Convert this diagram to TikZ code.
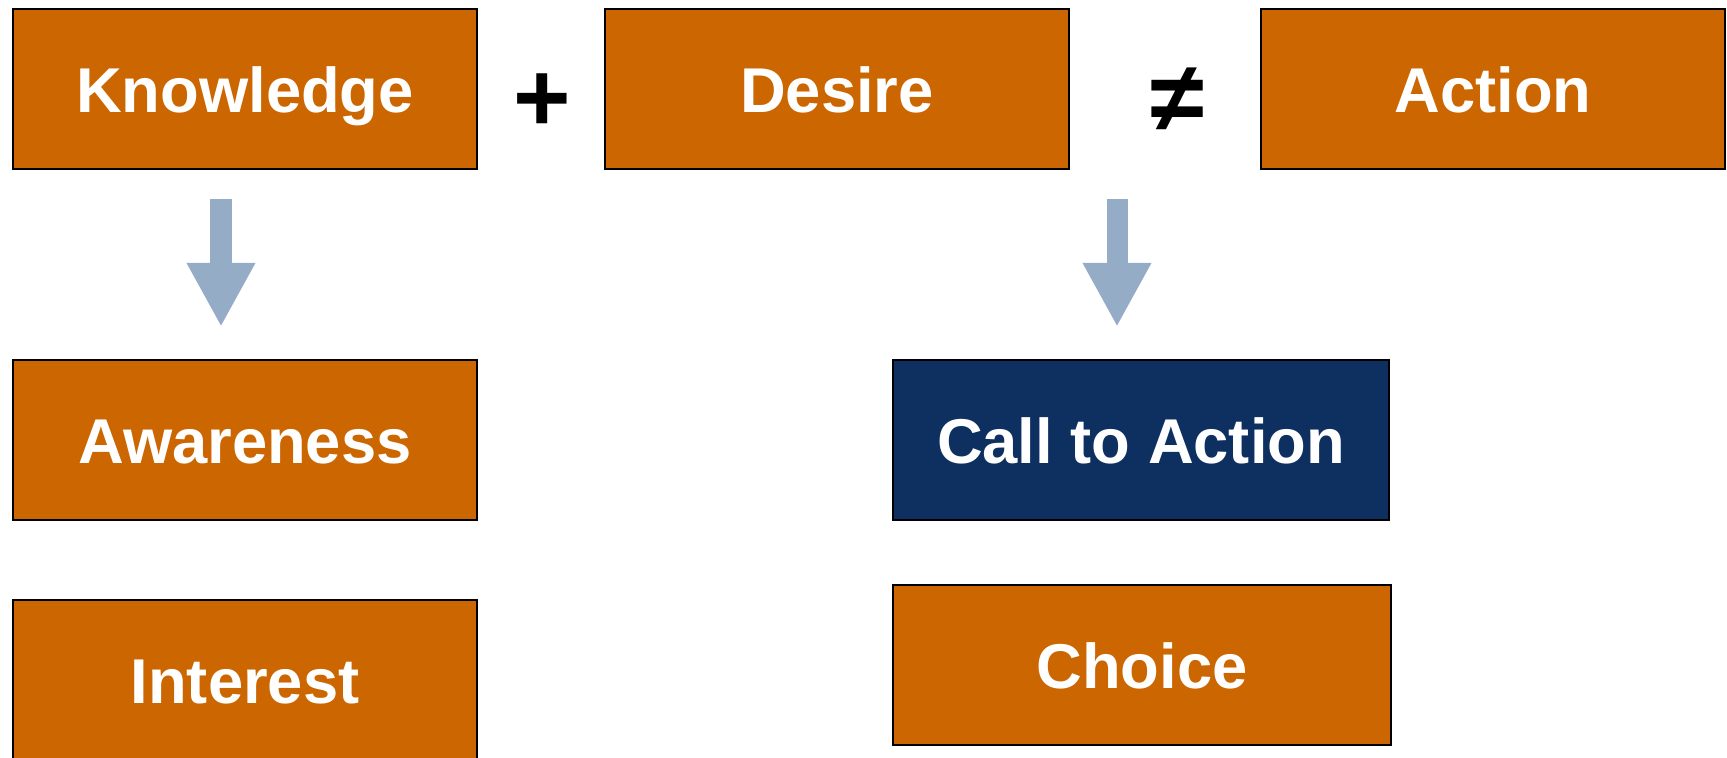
\documentclass[tikz,border=0pt]{standalone}
\usepackage{fontspec}
\setmainfont{Liberation Sans}
\usetikzlibrary{arrows.meta,calc}

\definecolor{boxorange}{HTML}{CC6600}
\definecolor{boxnavy}{HTML}{0D3060}
\definecolor{arrowblue}{HTML}{95ACC7}

\tikzset{
  stage/.style={draw=black,line width=0.6pt,fill=boxorange,text=white,
    minimum width=4.64cm,minimum height=1.6cm,inner sep=0pt,
    text height=0.47cm,text depth=0pt,
    font=\fontsize{18}{20}\selectfont\bfseries},
  sign/.style={font=\fontsize{28}{30}\selectfont\bfseries,inner sep=0pt},
  downarrow/.style={arrowblue,line width=0.21cm,
    -{Triangle[width=0.64cm,length=0.64cm]}}
}

\begin{document}
\begin{tikzpicture}[x=0.01cm,y=-0.01cm]
\useasboundingbox (0,0) rectangle (1727,757);
% top row
\node[stage] (know) at (245,89) {Knowledge};
\node[stage] (desire) at (837,89) {Desire};
\node[stage] (act) at (1493,89) {Action};
\node[sign] (plus) at (542,103) {+};
\node[sign] (neq) at (1178,100) {≠};
% lower boxes
\node[stage] (aware) at (245,440) {Awareness};
\node[stage] (interest) at (245,680) {Interest};
\node[stage,fill=boxnavy,minimum width=4.96cm] (cta) at (1141,440) {Call to Action};
\node[stage,minimum width=4.98cm] (choice) at (1142,665) {Choice};
% block arrows
\coordinate (tipL) at ($(aware.north)+(-24,-32)$);
\coordinate (tipR) at ($(cta.north)+(-24,-32)$);
\coordinate (tailL) at ($(tipL)+(0,-128)$);
\coordinate (tailR) at ($(tipR)+(0,-128)$);
\draw[downarrow] (tailL) -- (tipL);
\draw[downarrow] (tailR) -- (tipR);
\end{tikzpicture}
\end{document}
